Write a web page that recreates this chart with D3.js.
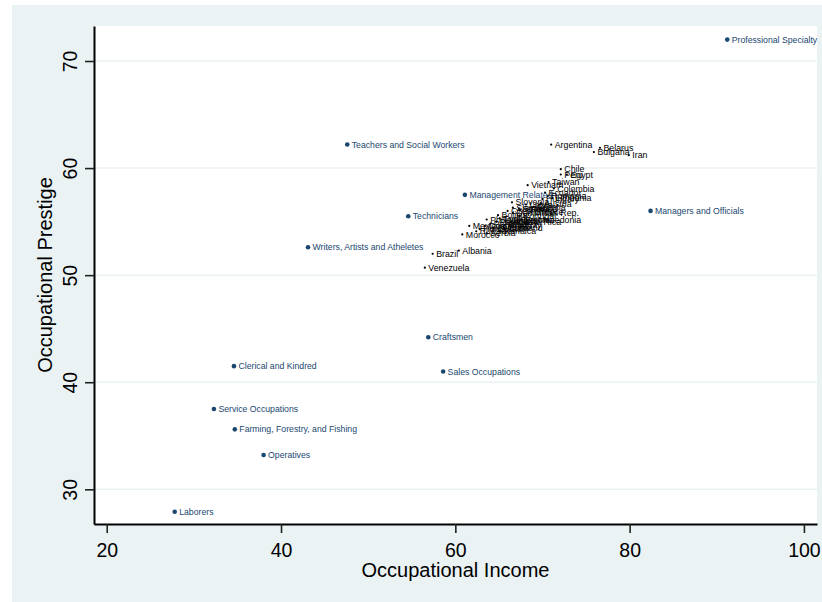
<!DOCTYPE html>
<html>
<head>
<meta charset="utf-8">
<script src="https://cdn.jsdelivr.net/npm/d3@7"></script>
<style>
  body { margin: 0; background: #fff; }
  text { font-family: "Liberation Sans", Arial, sans-serif; }
</style>
</head>
<body>
<svg id="chart" width="822" height="602"></svg>
<script>
// occupations (navy markers)
const occNames = ['Professional Specialty', 'Teachers and Social Workers', 'Management Related',
  'Technicians', 'Writers, Artists and Atheletes', 'Managers and Officials', 'Craftsmen',
  'Clerical and Kindred', 'Sales Occupations', 'Service Occupations',
  'Farming, Forestry, and Fishing', 'Operatives', 'Laborers'];
const occIncome = [91.2, 47.6, 61.1, 54.6, 43.1, 82.4, 56.9, 34.6, 58.6, 32.3, 34.7, 38.0, 27.8];
const occPrestige = [72.0, 62.2, 57.5, 55.5, 52.6, 56.0, 44.2, 41.5, 41.0, 37.5, 35.6, 33.2, 27.9];

// countries (small black dots)
const ctyNames = ['Argentina', 'Belarus', 'Bulgaria', 'Iran', 'Chile', 'Peru', 'Egypt', 'Taiwan',
  'Vietnam', 'Colombia', 'Ecuador', 'Romania', 'Lithuania', 'Hungary', 'Slovenia', 'Latvia',
  'Austria', 'Slovakia', 'Spain', 'Poland', 'Croatia', 'Greece', 'Dominican Rep.', 'Philippines',
  'Macedonia', 'Turkey', 'Ukraine', 'Costa Rica', 'Paraguay', 'Uruguay', 'Mexico', 'Switzerland',
  'Guatemala', 'Morocco', 'Russia', 'Serbia', 'Brazil', 'Albania', 'Venezuela',
  'Bolivia', 'Cuba', 'Panama', 'Portugal', 'Czech Rep.', 'Estonia', 'Jamaica', 'Honduras'];
const ctyIncome = [71.0, 76.6, 75.9, 79.9, 72.1, 72.1, 72.8, 70.7, 68.3, 71.3, 70.3, 70.6, 71.1,
  70.0, 66.5, 68.1, 69.8, 66.6, 67.3, 68.2, 69.0, 68.7, 66.6, 63.6, 69.1, 65.1, 65.8, 66.8, 64.7,
  65.7, 61.6, 64.4, 63.4, 60.8, 62.4, 63.6, 57.4, 60.4, 56.5,
  64.9, 65.6, 64.0, 67.4, 66.0, 67.6, 65.1, 62.8];
const ctyPrestige = [62.2, 61.9, 61.5, 61.2, 59.9, 59.4, 59.4, 58.7, 58.4, 58.1, 57.7, 57.4, 57.2,
  57.1, 56.8, 56.6, 56.7, 56.3, 56.2, 56.2, 56.4, 55.9, 55.8, 55.2, 55.2, 55.3, 55.1, 55.0, 55.0,
  54.7, 54.6, 54.4, 54.6, 53.8, 54.1, 53.9, 52.0, 52.3, 50.7,
  55.6, 54.4, 54.8, 55.5, 56.0, 55.2, 54.1, 54.3];

const xTicks = [20, 40, 60, 80, 100];
const yTicks = [30, 40, 50, 60, 70];

const navy = '#1a476f';
const bg = '#eaf2f3';
const plot = { left: 94, right: 817, top: 26, bottom: 524 };

const svg = d3.select('#chart');

svg.append('rect').attr('x', 12).attr('y', 5).attr('width', 810).attr('height', 597).attr('fill', bg);
svg.append('rect')
  .attr('x', plot.left).attr('y', plot.top)
  .attr('width', plot.right - plot.left).attr('height', plot.bottom - plot.top)
  .attr('fill', '#fff');

const x = d3.scaleLinear().domain([18.54, 101.5]).range([plot.left, plot.right]);
const y = d3.scaleLinear().domain([26.76, 73.27]).range([plot.bottom, plot.top]);

// grid lines
svg.append('g')
  .selectAll('line')
  .data(yTicks)
  .enter()
  .append('line')
  .attr('x1', plot.left).attr('x2', plot.right)
  .attr('y1', d => y(d)).attr('y2', d => y(d))
  .attr('stroke', bg)
  .attr('stroke-width', 1.5);

// axes
const yAxis = svg.append('g')
  .attr('transform', `translate(${plot.left},0)`)
  .call(d3.axisLeft(y).tickValues(yTicks).tickSize(9).tickSizeOuter(0).tickPadding(8));
yAxis.select('.domain').attr('stroke', '#000').attr('stroke-width', 2);
yAxis.selectAll('.tick line').attr('stroke', '#222').attr('stroke-width', 1.6);
yAxis.selectAll('.tick text')
  .attr('font-size', 19.5)
  .attr('fill', '#000')
  .attr('x', null).attr('dy', null)
  .attr('text-anchor', 'middle')
  .attr('transform', 'translate(-17,0) rotate(-90)');

const xAxis = svg.append('g')
  .attr('transform', `translate(0,${plot.bottom})`)
  .call(d3.axisBottom(x).tickValues(xTicks).tickSize(9).tickSizeOuter(0).tickPadding(8));
xAxis.select('.domain').attr('stroke', '#000').attr('stroke-width', 2);
xAxis.selectAll('.tick line').attr('stroke', '#222').attr('stroke-width', 1.6);
xAxis.selectAll('.tick text')
  .attr('font-size', 19.5)
  .attr('fill', '#000')
  .attr('dy', null)
  .attr('y', 33);

// axis titles
svg.append('text')
  .attr('x', (plot.left + plot.right) / 2)
  .attr('y', 577)
  .attr('text-anchor', 'middle')
  .attr('font-size', 20)
  .text('Occupational Income');
svg.append('text')
  .attr('transform', `translate(52,${(plot.top + plot.bottom) / 2}) rotate(-90)`)
  .attr('text-anchor', 'middle')
  .attr('font-size', 20)
  .text('Occupational Prestige');

// countries
const cty = svg.append('g')
  .selectAll('g')
  .data(ctyNames)
  .enter()
  .append('g')
  .attr('transform', (d, i) => `translate(${x(ctyIncome[i])},${y(ctyPrestige[i])})`);
cty.append('circle').attr('r', 1.1).attr('fill', '#000');
cty.append('text')
  .attr('x', 3.5)
  .attr('dy', '0.35em')
  .attr('font-size', 8.8)
  .attr('fill', '#000')
  .text(d => d);

// occupations
const occ = svg.append('g')
  .selectAll('g')
  .data(occNames)
  .enter()
  .append('g')
  .attr('transform', (d, i) => `translate(${x(occIncome[i])},${y(occPrestige[i])})`);
occ.append('circle').attr('r', 2.3).attr('fill', navy);
occ.append('text')
  .attr('x', 4.5)
  .attr('dy', '0.35em')
  .attr('font-size', 8.7)
  .attr('fill', navy)
  .text(d => d);
</script>
</body>
</html>
